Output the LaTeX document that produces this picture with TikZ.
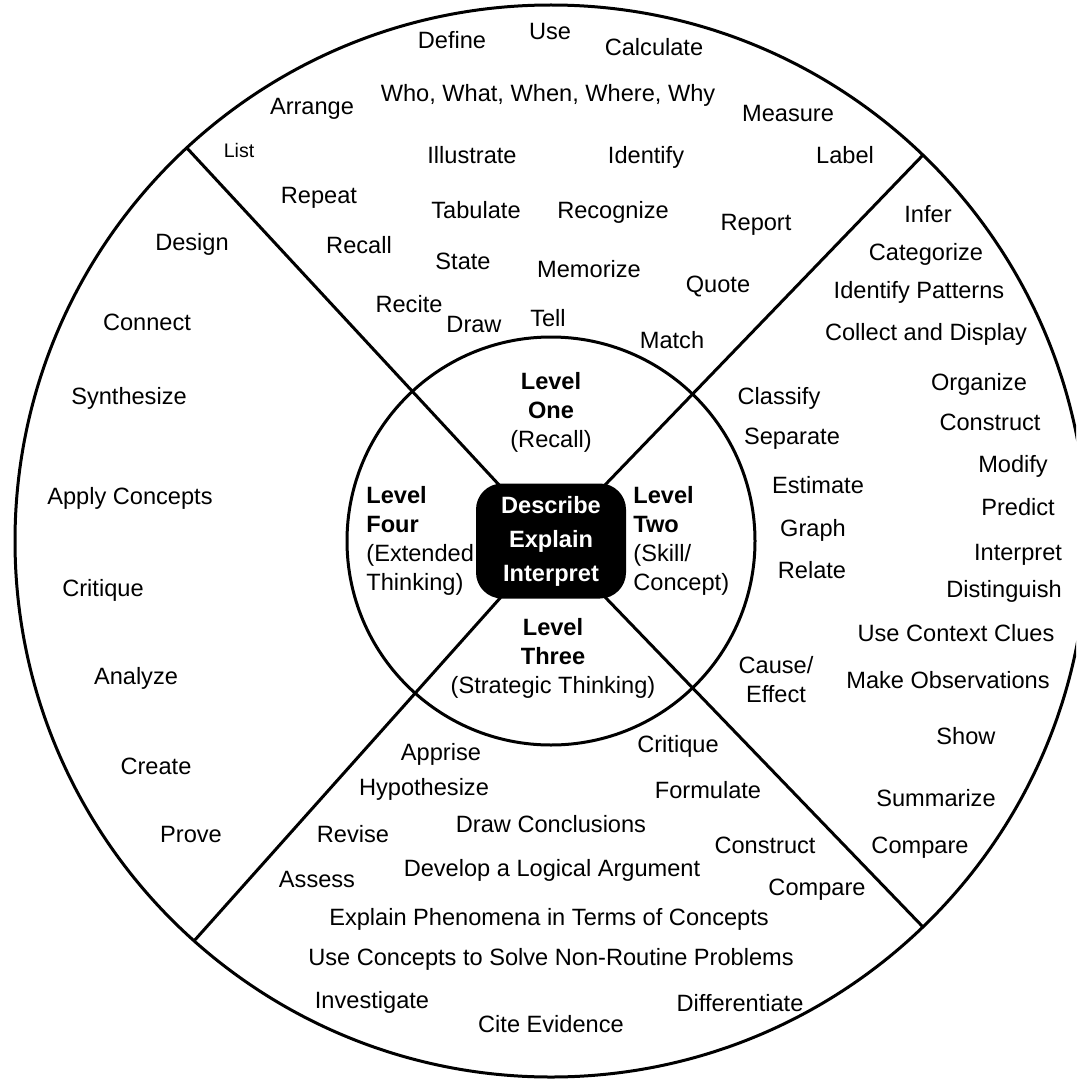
\documentclass[tikz,border=0pt]{standalone}
\usepackage{fontspec}
\setmainfont{Liberation Sans}

\begin{document}
\begin{tikzpicture}[x=0.5pt,y=-0.5pt,
  term/.style={anchor=base,inner sep=0pt,font=\fontsize{11.8}{14.5}\selectfont},
  small term/.style={term,font=\fontsize{9.8}{12}\selectfont},
  block/.style={inner sep=0pt,font=\fontsize{11.8}{14.5}\selectfont},
  core/.style={fill=black,text=white,rounded corners=13pt,minimum width=75pt,
    minimum height=57.5pt,inner sep=0pt,align=center,
    font=\fontsize{11.8}{17}\selectfont\bfseries},
  ring/.style={line width=1.5pt}]
  \clip (0,0) rectangle (1076,1081);
  % wheel
  \coordinate (hub) at (551,541);
  \draw[ring] (hub) circle[radius=268pt];
  \draw[ring] (hub) circle[radius=102pt];
  \coordinate (ul) at (186,147);
  \coordinate (ur) at (923,155);
  \coordinate (ll) at (194,941);
  \coordinate (lr) at (923,927);
  \draw[ring] (ul) -- (hub);
  \draw[ring] (ur) -- (hub);
  \draw[ring] (ll) -- (hub);
  \draw[ring] (lr) -- (hub);
  \node[core] (core) at (hub) {Describe\\Explain\\Interpret};
  % levels
  \node[block,align=center] (one) at (551,412) {\textbf{Level}\\\textbf{One}\\(Recall)};
  \node[block,align=left,anchor=west] (two) at (633,541) {\textbf{Level}\\\textbf{Two}\\(Skill/\\Concept)};
  \node[block,align=center] (three) at (553,658) {\textbf{Level}\\\textbf{Three}\\(Strategic Thinking)};
  \node[block,align=left,anchor=west] (four) at (366,541) {\textbf{Level}\\\textbf{Four}\\(Extended\\Thinking)};
  % level one
  \node[term] (define) at (452,49) {Define};
  \node[term] (use) at (550,40) {Use};
  \node[term] (calculate) at (654,56) {Calculate};
  \node[term] (arrange) at (312,114) {Arrange};
  \node[term] (who) at (548,102) {Who, What, When, Where, Why};
  \node[term] (measure) at (788,122) {Measure};
  \node[small term] (list) at (239,157) {List};
  \node[term] (illustrate) at (472,163) {Illustrate};
  \node[term] (identify) at (646,163) {Identify};
  \node[term] (label) at (845,163) {Label};
  \node[term] (repeat) at (319,203) {Repeat};
  \node[term] (tabulate) at (476,218) {Tabulate};
  \node[term] (recognize) at (613,218) {Recognize};
  \node[term] (report) at (756,230) {Report};
  \node[term] (recall) at (359,253) {Recall};
  \node[term] (state) at (463,269) {State};
  \node[term] (memorize) at (589,277) {Memorize};
  \node[term] (quote) at (718,292) {Quote};
  \node[term] (recite) at (409,312) {Recite};
  \node[term] (draw) at (474,332) {Draw};
  \node[term] (tell) at (548,326) {Tell};
  \node[term] (match) at (672,348) {Match};
  % level two
  \node[term] (infer) at (928,222) {Infer};
  \node[term] (categorize) at (926,260) {Categorize};
  \node[term] (patterns) at (919,298) {Identify Patterns};
  \node[term] (collect) at (926,340) {Collect and Display};
  \node[term] (organize) at (979,390) {Organize};
  \node[term] (constructR) at (990,430) {Construct};
  \node[term] (modify) at (1013,472) {Modify};
  \node[term] (predict) at (1018,515) {Predict};
  \node[term] (interpret) at (1018,560) {Interpret};
  \node[term] (distinguish) at (1004,597) {Distinguish};
  \node[term] (clues) at (956,641) {Use Context Clues};
  \node[term] (observe) at (948,688) {Make Observations};
  \node[term] (show) at (966,744) {Show};
  \node[term] (summarize) at (936,806) {Summarize};
  \node[term] (compareR) at (920,853) {Compare};
  \node[term] (classify) at (779,404) {Classify};
  \node[term] (separate) at (792,444) {Separate};
  \node[term] (estimate) at (818,493) {Estimate};
  \node[term] (graph) at (813,536) {Graph};
  \node[term] (relate) at (812,578) {Relate};
  \node[block,align=center] (cause) at (776,680) {Cause/\\Effect};
  % level three
  \node[term] (apprise) at (441,760) {Apprise};
  \node[term] (critiqueB) at (678,752) {Critique};
  \node[term] (hypothesize) at (424,795) {Hypothesize};
  \node[term] (formulate) at (708,798) {Formulate};
  \node[term] (revise) at (353,842) {Revise};
  \node[term] (conclude) at (551,832) {Draw Conclusions};
  \node[term] (constructB) at (765,853) {Construct};
  \node[term] (assess) at (317,887) {Assess};
  \node[term] (argue) at (552,876) {Develop a Logical Argument};
  \node[term] (compareB) at (817,895) {Compare};
  \node[term] (explain) at (549,925) {Explain Phenomena in Terms of Concepts};
  \node[term] (solve) at (551,965) {Use Concepts to Solve Non-Routine Problems};
  \node[term] (investigate) at (372,1008) {Investigate};
  \node[term] (cite) at (551,1032) {Cite Evidence};
  \node[term] (differentiate) at (740,1011) {Differentiate};
  % level four
  \node[term] (design) at (192,250) {Design};
  \node[term] (connect) at (147,330) {Connect};
  \node[term] (synthesize) at (129,404) {Synthesize};
  \node[term] (apply) at (130,504) {Apply Concepts};
  \node[term] (critiqueL) at (103,596) {Critique};
  \node[term] (analyze) at (136,684) {Analyze};
  \node[term] (create) at (156,774) {Create};
  \node[term] (prove) at (191,842) {Prove};
\end{tikzpicture}
\end{document}
